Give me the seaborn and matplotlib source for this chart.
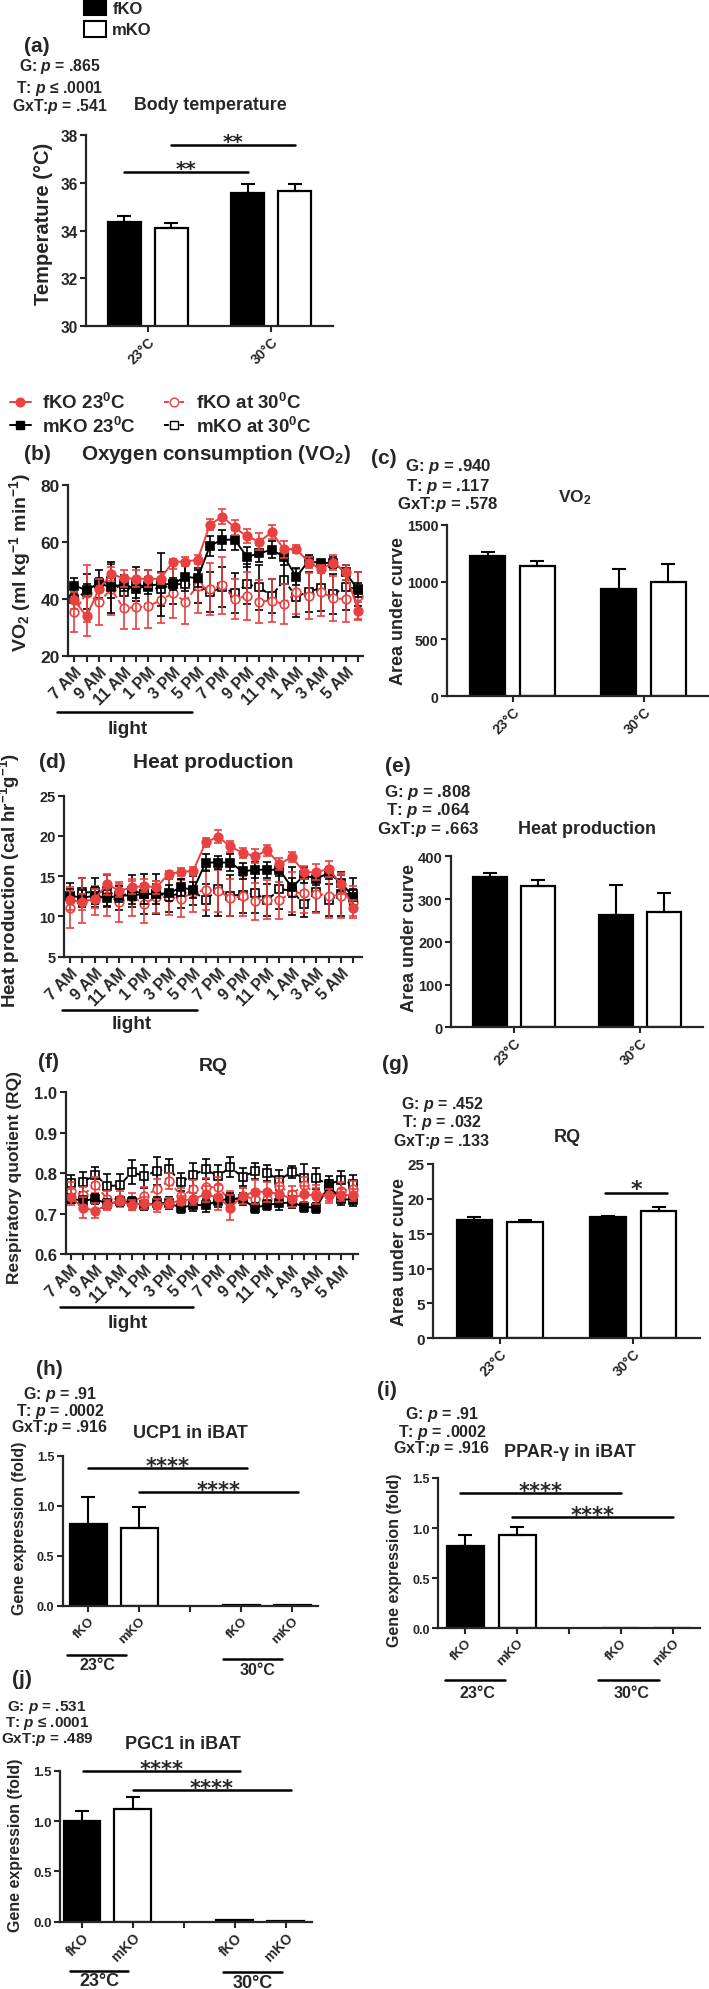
import numpy as np
import pandas as pd
import matplotlib
matplotlib.use('Agg')
import matplotlib.pyplot as plt
from matplotlib.lines import Line2D
from matplotlib.patches import Patch
import seaborn as sns

sns.set_style('ticks')
plt.rcParams['font.family'] = ['Liberation Sans', 'DejaVu Sans']
plt.rcParams['font.weight'] = 'bold'
plt.rcParams['axes.labelweight'] = 'bold'
plt.rcParams['mathtext.fontset'] = 'custom'
plt.rcParams['mathtext.rm'] = 'Liberation Sans:bold'
plt.rcParams['mathtext.bf'] = 'Liberation Sans:bold'
plt.rcParams['mathtext.it'] = 'Liberation Sans:italic:bold'
plt.rcParams['axes.linewidth'] = 1.6
plt.rcParams['xtick.major.width'] = 1.5
plt.rcParams['ytick.major.width'] = 1.5
plt.rcParams['xtick.major.size'] = 4
plt.rcParams['ytick.major.size'] = 4
plt.rcParams['xtick.major.pad'] = 2
plt.rcParams['ytick.major.pad'] = 2

RED = '#E8413F'

# ---- bar chart data (order: fKO 23, mKO 23, fKO 30, mKO 30)
TEMPS = ['23°C', '30°C']
GENOS = ['fKO', 'mKO']
body_temp = [34.35, 34.12, 35.56, 35.67]
body_temp_err = [0.25, 0.18, 0.39, 0.29]
vo2_auc = [1223, 1136, 935, 999]
vo2_auc_err = [41, 47, 178, 157]
heat_auc = [351.7, 329.8, 262.8, 270.6]
heat_auc_err = [8.3, 14.8, 70.2, 43.6]
rq_auc = [17.0, 16.73, 17.35, 18.2]
rq_auc_err = [0.4, 0.27, 0.25, 0.6]

GENE_CONDS = ['fKO 23°C', 'mKO 23°C', 'fKO 30°C', 'mKO 30°C']
GENE_GENO = ['fKO', 'mKO', 'fKO', 'mKO']
GENE_ORDER = ['fKO 23°C', 'mKO 23°C', ' ', 'fKO 30°C', 'mKO 30°C']
GENE_TICKS = ['fKO', 'mKO', '', 'fKO', 'mKO']
ucp1 = [0.817, 0.773, 0.005, 0.005]
ucp1_err = [0.273, 0.21, 0, 0]
ppar = [0.818, 0.934, 0.006, 0.006]
ppar_err = [0.109, 0.076, 0, 0]
pgc1 = [1.003, 1.12, 0.015, 0.01]
pgc1_err = [0.10, 0.12, 0, 0]

# ---- time course data (hourly, 7 AM -> 6 AM)
HOURS = ['7 AM', '8 AM', '9 AM', '10 AM', '11 AM', '12 PM', '1 PM', '2 PM',
         '3 PM', '4 PM', '5 PM', '6 PM', '7 PM', '8 PM', '9 PM', '10 PM',
         '11 PM', '12 AM', '1 AM', '2 AM', '3 AM', '4 AM', '5 AM', '6 AM']

vo2_f23 = [39.5, 33.8, 43.4, 48.7, 47.2, 47.0, 47.0, 47.0, 53.0, 53.0, 53.7, 66.0,
           68.8, 65.0, 61.9, 60.0, 63.3, 57.4, 57.4, 52.7, 50.4, 52.7, 49.2, 35.8]
vo2_f23_err = [3, 7, 3.5, 2.5, 3, 3, 3, 2, 1, 1.5, 1.5, 2, 2.5, 2.5, 2.5, 3, 2.5,
               3, 1.5, 2, 1.5, 2.5, 2.5, 3]
vo2_f30 = [35.2, 42.0, 38.7, 43.4, 36.7, 37.0, 37.3, 39.5, 41.9, 39.0, 44.6, 43.4,
           44.8, 39.8, 41.0, 39.0, 39.3, 38.1, 42.5, 41.0, 42.5, 40.1, 39.9, 41.0]
vo2_f30_err = [7, 10, 8, 9, 7.5, 7.5, 7.5, 8, 8.5, 8, 9.5, 9, 10, 7, 8.5, 7.5,
               7.5, 7, 8, 8, 8.5, 8, 8, 8.5]
vo2_m23 = [44.6, 43.0, 45.4, 44.0, 45.1, 43.4, 44.6, 45.1, 45.1, 47.7, 47.2, 58.6,
           60.7, 60.7, 54.7, 55.9, 57.2, 54.7, 47.7, 53.3, 52.4, 52.7, 49.2, 43.0]
vo2_m23_err = [2.5, 2, 2, 9, 2.5, 3, 3, 11, 2, 5, 3, 3.5, 3.5, 3.5, 3.5, 3, 3,
               3, 3, 2, 1, 2, 2.5, 2.5]
vo2_m30 = [39.9, 42.5, 45.1, 46.3, 42.2, 45.1, 44.0, 43.4, 45.1, 45.1, 44.6, 42.2,
           44.0, 41.9, 45.1, 44.0, 41.0, 46.5, 40.7, 42.5, 43.7, 41.6, 44.0, 43.4]
vo2_m30_err = [5, 6, 5, 6, 6, 6, 6, 6, 7, 7, 6, 7, 7, 7, 7, 8, 6, 8, 7, 7, 8, 7, 8, 6]

heat_f23 = [12.0, 11.8, 12.2, 14.0, 13.2, 13.6, 13.8, 13.6, 15.3, 15.5, 15.7, 19.2,
            19.9, 18.7, 17.9, 17.5, 18.2, 16.5, 17.4, 15.5, 15.5, 15.9, 14.0, 11.1]
heat_f23_err = [1.2, 1.0, 1.2, 1.3, 0.8, 0.8, 0.8, 0.8, 0.3, 0.5, 0.5, 0.6, 0.8,
                0.7, 0.6, 0.9, 0.7, 0.7, 0.6, 0.8, 1.0, 1.0, 1.2, 1.0]
heat_f30 = [11.1, 12.0, 12.0, 12.6, 11.8, 12.4, 11.6, 12.4, 12.4, 12.2, 13.0, 13.3,
            13.2, 12.3, 12.5, 11.9, 12.1, 12.0, 13.0, 12.9, 12.8, 12.6, 12.6, 11.8]
heat_f30_err = [2.5, 2.8, 1.8, 2.5, 2.5, 2.3, 2.4, 2.0, 2.2, 2.3, 2.5, 2.5, 2.6,
                2.3, 2.5, 2.3, 2.4, 2.3, 2.5, 2.5, 2.4, 2.8, 2.8, 2.0]
heat_m23 = [12.6, 12.3, 12.6, 12.3, 12.6, 12.6, 12.8, 12.8, 12.9, 13.6, 13.3, 16.7,
            16.7, 16.7, 15.6, 15.8, 15.8, 15.8, 13.6, 15.1, 14.7, 15.4, 14.2, 12.4]
heat_m23_err = [0.8, 1.0, 1.0, 1.0, 0.8, 1.0, 1.2, 1.2, 1.0, 1.0, 1.0, 1.0, 0.8,
                1.0, 1.0, 1.0, 1.0, 0.8, 1.2, 1.0, 0.8, 0.8, 1.0, 1.0]
heat_m30 = [12.6, 13.0, 13.0, 13.2, 12.3, 13.2, 12.8, 12.8, 12.6, 12.8, 13.2, 12.0,
            13.4, 12.6, 12.7, 12.9, 12.0, 13.4, 13.2, 11.5, 13.0, 12.0, 12.8, 12.8]
heat_m30_err = [1.5, 1.8, 1.8, 2.0, 1.5, 2.0, 2.5, 2.5, 2.0, 1.8, 1.8, 2.0, 3.3,
                2.5, 2.3, 2.5, 2.0, 2.5, 3.0, 1.6, 2.5, 2.0, 2.7, 2.0]

rq_f23 = [0.740, 0.715, 0.707, 0.722, 0.730, 0.721, 0.726, 0.720, 0.726, 0.732,
          0.736, 0.748, 0.740, 0.715, 0.744, 0.754, 0.754, 0.748, 0.737, 0.748,
          0.744, 0.746, 0.746, 0.746]
rq_f23_err = [0.02, 0.025, 0.018, 0.012, 0.01, 0.012, 0.015, 0.015, 0.012, 0.012,
              0.015, 0.02, 0.03, 0.03, 0.02, 0.03, 0.025, 0.02, 0.02, 0.02, 0.02,
              0.015, 0.015, 0.015]
rq_f30 = [0.757, 0.746, 0.771, 0.736, 0.736, 0.730, 0.743, 0.760, 0.781, 0.744,
          0.760, 0.765, 0.765, 0.732, 0.744, 0.736, 0.737, 0.768, 0.748, 0.771,
          0.748, 0.746, 0.757, 0.760]
rq_f30_err = [0.022, 0.02, 0.02, 0.02, 0.02, 0.02, 0.022, 0.025, 0.02, 0.02, 0.022,
              0.022, 0.025, 0.025, 0.02, 0.022, 0.022, 0.02, 0.02, 0.02, 0.022,
              0.02, 0.02, 0.02]
rq_m23 = [0.737, 0.732, 0.736, 0.724, 0.730, 0.728, 0.720, 0.726, 0.726, 0.714,
          0.722, 0.720, 0.732, 0.737, 0.736, 0.714, 0.722, 0.725, 0.728, 0.717,
          0.714, 0.768, 0.736, 0.734]
rq_m23_err = [0.012, 0.012, 0.012, 0.012, 0.012, 0.012, 0.012, 0.015, 0.015, 0.012,
              0.015, 0.015, 0.015, 0.015, 0.015, 0.012, 0.012, 0.015, 0.015, 0.012,
              0.012, 0.015, 0.015, 0.015]
rq_m30 = [0.775, 0.778, 0.796, 0.768, 0.770, 0.803, 0.792, 0.806, 0.810, 0.778,
          0.796, 0.810, 0.792, 0.815, 0.790, 0.805, 0.800, 0.783, 0.803, 0.787,
          0.787, 0.772, 0.783, 0.773]
rq_m30_err = [0.02, 0.025, 0.02, 0.03, 0.028, 0.03, 0.028, 0.035, 0.025, 0.022,
              0.028, 0.025, 0.028, 0.025, 0.022, 0.02, 0.02, 0.025, 0.015, 0.035,
              0.025, 0.02, 0.022, 0.022]

SERIES_KEYS = ['fKO 23', 'mKO 23', 'fKO 30', 'mKO 30']
SERIES_STYLE = {
    'fKO 23': dict(color=RED, marker='o', mfc=RED, ls='-'),
    'mKO 23': dict(color='black', marker='s', mfc='black', ls='-'),
    'fKO 30': dict(color=RED, marker='o', mfc='white', ls=(0, (2.5, 1.5))),
    'mKO 30': dict(color='black', marker='s', mfc='white', ls=(0, (2.5, 1.5))),
}
LEGEND_LABELS = ['fKO 23$^0$C', 'mKO 23$^0$C', 'fKO at 30$^0$C', 'mKO at 30$^0$C']

W, H = 709, 1990
fig = plt.figure(figsize=(W / 100, H / 100), dpi=100)


def add_ax(x0, x1, y0, y1):
    # pixel box (from top-left) -> figure fraction
    ax = fig.add_axes([x0 / W, 1 - y1 / H, (x1 - x0) / W, (y1 - y0) / H])
    sns.despine(ax=ax)
    return ax


def ftext(x, y, s, size=11, ha='center', **kw):
    fig.text(x / W, 1 - y / H, s, fontsize=size, ha=ha, va='center',
             fontweight='bold', **kw)


def fline(x0, x1, y, lw=1.8):
    fig.add_artist(Line2D([x0 / W, x1 / W], [1 - y / H, 1 - y / H],
                          transform=fig.transFigure, color='black', lw=lw))


def pvals(xc, ys, g, t, gxt, size=11):
    ftext(xc, ys[0], 'G: $p$ = ' + g, size)
    ftext(xc, ys[1], t, size)
    ftext(xc, ys[2], 'GxT:$p$ = ' + gxt, size)


def bar_panel(ax, means, errs, ylim, yticks, ylabel, lab_xy, tick_size=10.5,
              label_size=13):
    df = pd.DataFrame({'temp': np.repeat(TEMPS, 2), 'geno': GENOS * 2, 'val': means})
    sns.barplot(data=df, x='temp', y='val', hue='geno', hue_order=GENOS,
                palette={'fKO': 'black', 'mKO': 'white'}, edgecolor='black',
                linewidth=1.6, width=0.76, gap=0.3, saturation=1,
                errorbar=None, legend=False, ax=ax)
    centers = sorted(p.get_x() + p.get_width() / 2 for p in ax.patches)
    ax.errorbar(centers, means, yerr=[np.zeros(len(errs)), errs], fmt='none',
                ecolor='black', elinewidth=1.5, capsize=5, capthick=1.5, zorder=3)
    ax.set_ylim(*ylim)
    ax.set_yticks(yticks)
    ax.set_xlim(-0.5, 1.5)
    ax.set_xlabel('')
    ax.set_ylabel(ylabel, fontsize=label_size)
    ax.yaxis.set_label_coords(*lab_xy)
    ax.set_xticks(range(len(TEMPS)))
    ax.set_xticklabels(TEMPS, rotation=45, ha='right', rotation_mode='anchor',
                       fontsize=10)
    ax.tick_params(axis='y', labelsize=tick_size)


def gene_panel(ax, means, errs, xlim, lab_xy, tick_size=9, xtick_size=9.5):
    df = pd.DataFrame({'cond': GENE_CONDS, 'geno': GENE_GENO, 'val': means})
    sns.barplot(data=df, x='cond', y='val', hue='geno', order=GENE_ORDER,
                hue_order=GENOS, dodge=False,
                palette={'fKO': 'black', 'mKO': 'white'}, edgecolor='black',
                linewidth=1.6, width=0.72, saturation=1, errorbar=None,
                legend=False, ax=ax)
    centers = sorted(p.get_x() + p.get_width() / 2 for p in ax.patches)
    ax.errorbar(centers[:2], means[:2], yerr=[np.zeros(2), errs[:2]], fmt='none',
                ecolor='black', elinewidth=1.5, capsize=5, capthick=1.5, zorder=3)
    ax.set_ylim(0, 1.5)
    ax.set_yticks([0, 0.5, 1.0, 1.5])
    ax.set_yticklabels(['0.0', '0.5', '1.0', '1.5'])
    ax.set_xlim(*xlim)
    ax.set_xlabel('')
    ax.set_ylabel('Gene expression (fold)', fontsize=11.5)
    ax.yaxis.set_label_coords(*lab_xy)
    ax.set_xticks(range(len(GENE_ORDER)))
    ax.set_xticklabels(GENE_TICKS, rotation=45, ha='right', rotation_mode='anchor',
                       fontsize=xtick_size)
    ax.tick_params(axis='y', labelsize=tick_size)


def sig(ax, x0, x1, y, stars, size=15, off=-3):
    ax.plot([x0, x1], [y, y], color='black', lw=1.8, clip_on=False)
    ax.annotate(stars, ((x0 + x1) / 2, y), xytext=(0, off), textcoords='offset points',
                ha='center', va='baseline', fontsize=size, fontweight='bold',
                family='DejaVu Sans')


def time_panel(ax, series, ylim, yticks, xlim, ylabel, lab_xy, fmt=None,
               ytick_size=12, label_size=13.5):
    x = np.arange(len(HOURS))
    for name, mean, err in series:
        st = SERIES_STYLE[name]
        df = pd.DataFrame({'t': x, 'v': mean})
        sns.lineplot(data=df, x='t', y='v', ax=ax, color=st['color'], marker=st['marker'],
                     markerfacecolor=st['mfc'], markeredgecolor=st['color'],
                     markeredgewidth=1.2, markersize=6.2, linestyle=st['ls'], linewidth=1.4)
        ax.errorbar(x, mean, yerr=err, fmt='none', ecolor=st['color'], elinewidth=1.2,
                    capsize=2.8, capthick=1.2)
    ax.set_ylim(*ylim)
    ax.set_yticks(yticks)
    if fmt:
        ax.set_yticklabels([fmt.format(v) for v in yticks])
    ax.set_xlim(*xlim)
    ax.set_xticks(x)
    ax.set_xticklabels([h if i % 2 == 0 else '' for i, h in enumerate(HOURS)],
                       rotation=45, ha='right', rotation_mode='anchor', fontsize=11.5)
    ax.tick_params(axis='y', labelsize=ytick_size)
    ax.set_xlabel('')
    ax.set_ylabel(ylabel, fontsize=label_size)
    ax.yaxis.set_label_coords(*lab_xy)


# ---------------- (a) body temperature
ax_a = add_ax(86, 333, 136, 327)
bar_panel(ax_a, body_temp, body_temp_err, (30, 38), [30, 32, 34, 36, 38],
          'Temperature (°C)', (-0.134, 0.54), tick_size=11.2, label_size=14.5)
sig(ax_a, -0.19, 0.81, 36.44, '**', size=14.5, off=-1.5)
sig(ax_a, 0.19, 1.19, 37.58, '**', size=14.5, off=-1.5)
ftext(37, 47, '(a)', 15)
pvals(60, [67, 88, 107], '.865', 'T: $p$ ≤ .0001', '.541', 11.3)
ftext(210, 106, 'Body temperature', 12.8)
fig.legend(handles=[Patch(fc='black', ec='black', lw=1.5),
                    Patch(fc='white', ec='black', lw=1.5)],
           labels=GENOS, loc='upper left', bbox_to_anchor=(84 / W, 1 - 0 / H),
           frameon=False, fontsize=12, handlelength=1.3, handleheight=1.1,
           handletextpad=0.4, labelspacing=0.3, borderpad=0, borderaxespad=0)

# ---------------- (b) VO2 time course
ax_b = add_ax(68, 363, 485.7, 656.7)
time_panel(ax_b, [('mKO 30', vo2_m30, vo2_m30_err), ('fKO 30', vo2_f30, vo2_f30_err),
                  ('mKO 23', vo2_m23, vo2_m23_err), ('fKO 23', vo2_f23, vo2_f23_err)],
           (20, 80), [20, 40, 60, 80], (-0.5, 23.4),
           'VO$_2$ (ml kg$^{-1}$ min$^{-1}$)', (-0.119, 0.55), ytick_size=12.5,
           label_size=14)
ftext(37, 454, '(b)', 15)
ftext(216, 454, 'Oxygen consumption (VO$_2$)', 14.9)
fline(57, 192, 713)
ftext(128, 729, 'light', 13.7)
handles = []
for key in SERIES_KEYS:
    st = SERIES_STYLE[key]
    handles.append(Line2D([], [], color=st['color'], marker=st['marker'],
                          markerfacecolor=st['mfc'], markeredgecolor=st['color'],
                          markersize=6.2, linestyle=st['ls'], linewidth=1.4))
fig.legend(handles=handles, labels=LEGEND_LABELS,
           ncol=2, loc='upper left', bbox_to_anchor=(10 / W, 1 - 393 / H),
           frameon=False, fontsize=13.5, handlelength=1.1, handletextpad=0.6,
           columnspacing=1.5, labelspacing=0.2, borderpad=0, borderaxespad=0)

# ---------------- (c) VO2 AUC
ax_c = add_ax(447, 709, 525.7, 697.3)
bar_panel(ax_c, vo2_auc, vo2_auc_err, (0, 1500), [0, 500, 1000, 1500],
          'Area under curve', (-0.153, 0.50), tick_size=10.2)
ftext(384, 458, '(c)', 15)
pvals(448, [467, 486, 504], '.940', 'T: $p$ = .117', '.578', 12.1)
ftext(575, 498, 'VO$_2$', 12.5)

# ---------------- (d) heat production time course
ax_d = add_ax(64, 362, 796.7, 957.7)
time_panel(ax_d, [('mKO 30', heat_m30, heat_m30_err), ('fKO 30', heat_f30, heat_f30_err),
                  ('mKO 23', heat_m23, heat_m23_err), ('fKO 23', heat_f23, heat_f23_err)],
           (5, 25), [5, 10, 15, 20, 25], (-0.5, 23.7),
           'Heat production (cal hr$^{-1}$g$^{-1}$)', (-0.141, 0.48), ytick_size=10.5)
ftext(52, 762, '(d)', 15)
ftext(213, 762, 'Heat production', 15)
fline(62, 197, 1011)
ftext(132, 1025, 'light', 13.7)

# ---------------- (e) heat production AUC
ax_e = add_ax(451, 703, 857.3, 1028.3)
bar_panel(ax_e, heat_auc, heat_auc_err, (0, 400), [0, 100, 200, 300, 400],
          'Area under curve', (-0.131, 0.53))
ftext(398, 767, '(e)', 15)
pvals(428, [793, 811, 830], '.808', 'T: $p$ = .064', '.663', 12.2)
ftext(587, 830, 'Heat production', 13)

# ---------------- (f) RQ time course
ax_f = add_ax(65.7, 358, 1093.3, 1255)
time_panel(ax_f, [('mKO 30', rq_m30, rq_m30_err), ('fKO 30', rq_f30, rq_f30_err),
                  ('mKO 23', rq_m23, rq_m23_err), ('fKO 23', rq_f23, rq_f23_err)],
           (0.6, 1.0), [0.6, 0.7, 0.8, 0.9, 1.0], (-0.4, 23.4),
           'Respiratory quotient (RQ)', (-0.15, 0.48), fmt='{:.1f}', ytick_size=12,
           label_size=12.5)
ftext(48, 1063, '(f)', 15)
ftext(213, 1067, 'RQ', 14)
fline(60, 193, 1308)
ftext(128, 1323, 'light', 13.7)

# ---------------- (g) RQ AUC
ax_g = add_ax(433, 700, 1165, 1339.3)
bar_panel(ax_g, rq_auc, rq_auc_err, (0, 25), [0, 5, 10, 15, 20, 25],
          'Area under curve', (-0.094, 0.50), tick_size=11)
sig(ax_g, 0.79, 1.25, 20.84, '*', size=16, off=-1.5)
ftext(395, 1065, '(g)', 15)
pvals(442, [1105, 1123, 1142], '.452', 'T: $p$ = .032', '.133', 11.5)
ftext(567, 1138, 'RQ', 13)

# ---------------- (h) UCP1
ax_h = add_ax(62.7, 318, 1456.7, 1606.7)
gene_panel(ax_h, ucp1, ucp1_err, (-0.5, 4.5), (-0.14, 0.52))
sig(ax_h, 0.0, 3.1, 1.377, '****')
sig(ax_h, 1.0, 4.1, 1.137, '****')
ftext(49, 1370, '(h)', 15)
pvals(60, [1395, 1412, 1428], '.91', 'T: $p$ = .0002', '.916', 11.5)
ftext(190, 1433, 'UCP1 in iBAT', 13)
fline(67, 126, 1656)
ftext(97, 1666, '23°C', 11.5)
fline(223, 282, 1660)
ftext(258, 1671, '30°C', 11.5)

# ---------------- (i) PPAR-gamma
ax_i = add_ax(438, 700, 1479, 1629.3)
gene_panel(ax_i, ppar, ppar_err, (-0.53, 4.53), (-0.137, 0.46))
sig(ax_i, -0.1, 3.0, 1.349, '****')
sig(ax_i, 0.9, 4.0, 1.11, '****')
ftext(387, 1390, '(i)', 15)
pvals(442, [1415, 1432, 1448], '.91', 'T: $p$ = .0002', '.916', 11.5)
ftext(570, 1453, 'PPAR-γ in iBAT', 13)
fline(445, 505, 1681)
ftext(477, 1693, '23°C', 11.5)
fline(598, 659, 1681)
ftext(632, 1693, '30°C', 11.5)

# ---------------- (j) PGC1
ax_j = add_ax(60, 312, 1771.7, 1922.7)
gene_panel(ax_j, pgc1, pgc1_err, (-0.43, 4.52), (-0.147, 0.51), tick_size=9.5,
           xtick_size=10)
sig(ax_j, 0.03, 3.1, 1.5, '****')
sig(ax_j, 1.0, 4.1, 1.31, '****')
ftext(22, 1680, '(j)', 15)
pvals(47, [1708, 1724, 1740], '.531', 'T: $p$ ≤ .0001', '.489', 11)
ftext(183, 1745, 'PGC1 in iBAT', 13)
fline(70, 128, 1972)
ftext(99, 1982, '23°C', 13)
fline(223, 282, 1973)
ftext(253, 1984, '30°C', 13)

fig.savefig('out.png', dpi=100)
